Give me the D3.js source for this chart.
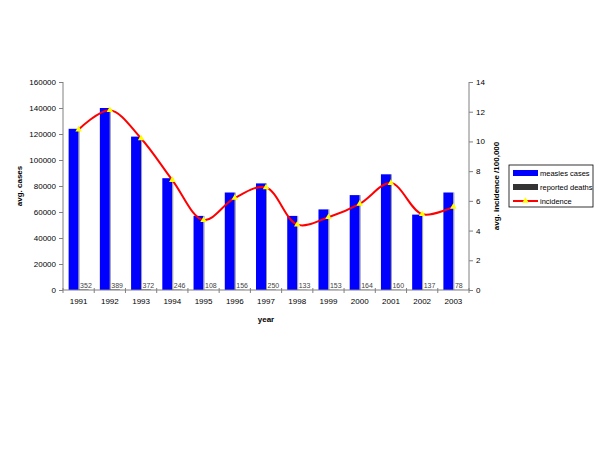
<!DOCTYPE html>
<html><head><meta charset="utf-8">
<script src="https://cdn.jsdelivr.net/npm/d3@7"></script>
<style>body{margin:0;background:#fff}svg{display:block}text{font-family:"Liberation Sans",Arial,sans-serif}</style>
</head><body><div id="chart"></div>
<script>
const years = ["1991","1992","1993","1994","1995","1996","1997","1998","1999","2000","2001","2002","2003"];
const measlesCases = [124000,140000,118000,86000,57000,75000,82000,57000,62000,73000,89000,58000,75000];
const reportedDeaths = [352,389,372,246,108,156,250,133,153,164,160,137,78];
const incidence = [10.8,12.1,10.2,7.4,4.7,6.2,6.9,4.4,4.9,5.8,7.2,5.1,5.6];
const leftTicks = [0,20000,40000,60000,80000,100000,120000,140000,160000];
const rightTicks = [0,2,4,6,8,10,12,14];

const W=600,H=450;
const m={left:63,right:469,top:82,bottom:290};
const svg=d3.select("#chart").append("svg").attr("width",W).attr("height",H);

const x=d3.scaleBand().domain(years).range([m.left,m.right]).paddingInner(0.36).paddingOuter(0.18);
const xg=d3.scaleBand().domain(["cases","deaths"]).range([0,x.bandwidth()]);
const y=d3.scaleLinear().domain([0,160000]).range([m.bottom,m.top]);
const y2=d3.scaleLinear().domain([0,14]).range([m.bottom,m.top]);

const gray="#808080";
const fs=8;
// left axis
const la=svg.append("g").attr("transform",`translate(${m.left},0)`)
 .call(d3.axisLeft(y).tickValues(leftTicks).tickSize(4).tickPadding(3).tickFormat(d3.format("d")));
la.selectAll("path,line").attr("stroke",gray);
la.selectAll("text").attr("font-size",fs).attr("fill","#000");
la.select(".domain").attr("d",`M0,${m.top}V${m.bottom}`);
// right axis
const ra=svg.append("g").attr("transform",`translate(${m.right},0)`)
 .call(d3.axisRight(y2).tickValues(rightTicks).tickSize(4).tickPadding(3));
ra.selectAll("path,line").attr("stroke",gray);
ra.selectAll("text").attr("font-size",fs).attr("fill","#000");
ra.select(".domain").attr("d",`M0,${m.top}V${m.bottom}`);

// bars
const step=x.step();
const grp=svg.append("g").selectAll("g").data(years).join("g")
 .attr("transform",d=>`translate(${x(d)},0)`);
grp.append("rect").attr("x",xg("cases")).attr("width",xg.bandwidth())
 .attr("y",(d,i)=>y(measlesCases[i])).attr("height",(d,i)=>m.bottom-y(measlesCases[i]))
 .attr("fill","#0000FF");
grp.append("line").attr("x1",xg("cases")+xg.bandwidth()+0.5).attr("x2",xg("cases")+xg.bandwidth()+0.5)
 .attr("y1",(d,i)=>y(measlesCases[i])).attr("y2",m.bottom).attr("stroke","#9a9a9a").attr("stroke-width",1);
grp.append("rect").attr("x",xg("deaths")).attr("width",xg.bandwidth())
 .attr("y",(d,i)=>y(reportedDeaths[i])).attr("height",(d,i)=>m.bottom-y(reportedDeaths[i]))
 .attr("fill","#333333");
grp.append("text").attr("x",xg("deaths")+1.5).attr("y",(d,i)=>y(reportedDeaths[i])-1.5)
 .attr("font-size",7).attr("fill","#444").text((d,i)=>reportedDeaths[i]);

// x axis
const xa=svg.append("g").attr("transform",`translate(0,${m.bottom})`)
 .call(d3.axisBottom(x).tickSize(0).tickPadding(8));
xa.selectAll("path").attr("stroke",gray);
xa.select(".domain").attr("d",`M${m.left},0H${m.right}`);
xa.selectAll("text").attr("font-size",fs).attr("fill","#000");
// category separator ticks
svg.append("g").selectAll("line").data(d3.range(years.length+1)).join("line")
 .attr("x1",i=>m.left+i*step).attr("x2",i=>m.left+i*step)
 .attr("y1",m.bottom-2).attr("y2",m.bottom+3).attr("stroke",gray);

// incidence line
const cx=(d,i)=>x(years[i])+x.bandwidth()/2;
const line=d3.line().x((d,i)=>cx(d,i)).y(d=>y2(d)).curve(d3.curveCatmullRom.alpha(0.5));
svg.append("path").datum(incidence).attr("d",line).attr("fill","none").attr("stroke","#FF0000").attr("stroke-width",2);
const tri=d3.symbol().type(d3.symbolTriangle).size(18);
svg.append("g").selectAll("path").data(incidence).join("path")
 .attr("transform",(d,i)=>`translate(${cx(d,i)},${y2(d)})`).attr("d",tri).attr("fill","#FFFF00");

// titles
svg.append("text").attr("x",(m.left+m.right)/2).attr("y",322).attr("text-anchor","middle")
 .attr("font-size",8).attr("font-weight","bold").text("year");
svg.append("text").attr("transform",`translate(22,${(m.top+m.bottom)/2}) rotate(-90)`).attr("text-anchor","middle")
 .attr("font-size",8).attr("font-weight","bold").text("avg. cases");
svg.append("text").attr("transform",`translate(499,${(m.top+m.bottom)/2}) rotate(-90)`).attr("text-anchor","middle")
 .attr("font-size",8).attr("font-weight","bold").text("avg. incidence /100,000");

// legend
const lg=svg.append("g").attr("transform","translate(509,165)");
lg.append("rect").attr("width",84).attr("height",42).attr("fill","#fff").attr("stroke","#000").attr("stroke-width",0.8);
const items=[{n:"measles cases",c:"#0000FF"},{n:"reported deaths",c:"#333333"},{n:"incidence",c:"line"}];
items.forEach((it,i)=>{
  const yy=8+i*14;
  if(it.c==="line"){
    lg.append("line").attr("x1",4).attr("x2",29).attr("y1",yy).attr("y2",yy).attr("stroke","#FF0000").attr("stroke-width",2);
    lg.append("path").attr("transform",`translate(16.5,${yy})`).attr("d",tri).attr("fill","#FFFF00");
  } else {
    lg.append("rect").attr("x",4).attr("y",yy-3).attr("width",25).attr("height",6).attr("fill",it.c);
  }
  lg.append("text").attr("x",31).attr("y",yy+3).attr("font-size",7.5).text(it.n);
});
</script></body></html>
